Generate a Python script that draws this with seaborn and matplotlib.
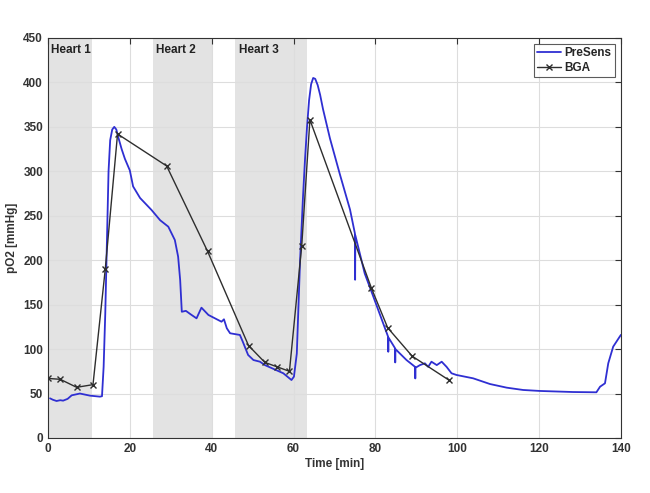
import numpy as np
import pandas as pd
import matplotlib
matplotlib.use("Agg")
import matplotlib.pyplot as plt
import matplotlib.transforms as mtransforms
import seaborn as sns

# PreSens optode trace (time [min], pO2 [mmHg])
presens_t = [0.5, 1.2, 2.1, 3.0, 3.7, 4.8, 5.8, 7.8, 10.3, 12.7, 13.2, 13.6, 14.0, 14.4, 14.8, 15.2,
             15.7, 16.2, 16.7, 17.2, 18.0, 18.8, 20.0, 20.8, 22.5, 25.3, 27.4, 29.4, 31.0, 31.8,
             32.3, 32.7, 33.7, 34.9, 36.3, 37.5, 39.2, 42.4, 43.0, 43.7, 44.5, 46.9, 47.6, 48.9,
             50.2, 51.8, 53.0, 57.5, 59.5, 60.1, 60.8, 61.6, 62.3, 62.8, 63.3, 63.8, 64.3, 64.8,
             65.3, 65.9, 66.5, 67.2, 68.9, 71.3, 73.8, 75.0, 75.05, 75.1, 77.4, 79.5, 81.9,
             83.1, 83.15, 83.2, 84.8, 84.85, 84.9, 87.6, 89.7, 89.75, 89.8, 90.9, 92.1, 92.9,
             93.7, 95.0, 96.2, 97.4, 98.6, 99.8, 103.9, 108.0, 112.1, 116.1, 120.2, 128.3,
             134.0, 134.9, 136.1, 136.9, 138.1, 139.7, 140.0]
presens_v = [44.6, 43.0, 41.6, 42.5, 42.0, 44.0, 48.0, 50.0, 47.6, 46.5, 47.0, 80.0, 140.0, 220.0, 300.0, 335.0,
             347.0, 350.0, 347.0, 338.0, 325.0, 314.0, 301.0, 283.0, 270.0, 256.5, 245.0, 237.7, 222.7, 204.0,
             177.7, 142.0, 143.0, 139.0, 134.6, 146.6, 138.4, 130.8, 133.5, 123.4, 117.8, 115.9, 108.3, 93.4,
             87.7, 85.8, 82.0, 72.8, 65.2, 69.0, 95.0, 200.0, 270.0, 313.0, 350.0, 380.0, 398.0, 405.0,
             404.0, 397.0, 386.0, 370.0, 337.0, 297.0, 257.0, 230.0, 178.0, 228.0, 185.0, 159.0, 129.0,
             114.0, 97.0, 113.0, 101.0, 85.0, 100.0, 87.7, 80.0, 67.0, 79.0, 82.0, 84.0, 80.0,
             85.8, 82.0, 85.8, 80.0, 72.8, 70.9, 67.1, 60.7, 56.6, 54.0, 52.9, 51.7,
             51.4, 57.7, 61.5, 84.0, 102.7, 114.0, 116.0]

# Blood gas analysis samples
bga_t = [0, 3, 7, 11, 14, 17, 29, 39, 49, 53, 56, 59, 62, 64, 79, 83, 89, 98]
bga_v = [67, 66, 57, 60, 190, 342, 306, 210, 104, 85, 80, 75, 216, 358, 169, 124, 92, 65]

# Heart perfusion phases
heart_labels = ["Heart 1", "Heart 2", "Heart 3"]
heart_start = [0.0, 25.7, 45.8]
heart_end = [10.8, 40.2, 63.2]

presens = pd.DataFrame({"t": presens_t, "v": presens_v})
bga = pd.DataFrame({"t": bga_t, "v": bga_v})

sns.set_style("white")
plt.rcParams["font.family"] = ["Liberation Sans", "DejaVu Sans"]
plt.rcParams["font.weight"] = "bold"

fig = plt.figure(figsize=(6.5, 4.93), dpi=100)
ax = fig.add_axes([0.0738, 0.1116, 0.8815, 0.8114])

trans = mtransforms.blended_transform_factory(ax.transData, ax.transAxes)
for lab, s, e in zip(heart_labels, heart_start, heart_end):
    ax.axvspan(s, e, color="#e3e3e3", lw=0, zorder=0)
    ax.text(s + 0.8, 0.985, lab, transform=trans, ha="left", va="top",
            fontsize=8.5, fontweight="bold", color="#222222")

sns.lineplot(data=presens, x="t", y="v", ax=ax, sort=False, estimator=None,
             color="#2f2fd2", lw=1.3, label="PreSens", zorder=3)
sns.lineplot(data=bga, x="t", y="v", ax=ax, sort=False, estimator=None,
             color="#2e2e2e", lw=1.0, marker="x", markersize=4.5,
             markeredgewidth=1.0, markeredgecolor="#2e2e2e",
             label="BGA", zorder=4)

ax.set_xlim(0, 140)
ax.set_ylim(0, 450)
ax.set_xticks(np.arange(0, 141, 20))
ax.set_yticks(np.arange(0, 451, 50))
ax.grid(True, color="#dddddd", lw=0.8)
ax.set_axisbelow(True)
ax.tick_params(direction="in", top=True, right=True, length=4,
               labelsize=8.5, colors="#333333", width=0.8)
for lbl in ax.get_xticklabels() + ax.get_yticklabels():
    lbl.set_fontweight("bold")
for sp in ax.spines.values():
    sp.set_color("#333333")
    sp.set_linewidth(0.8)

ax.set_xlabel("Time [min]", fontsize=8.5, fontweight="bold", color="#333333", labelpad=2)
ax.set_ylabel("pO2 [mmHg]", fontsize=8.5, fontweight="bold", color="#333333", labelpad=4)

leg = ax.legend(loc="upper right", frameon=True, fancybox=False, fontsize=8.5,
                handlelength=2.0, borderpad=0.3, labelspacing=0.2,
                handletextpad=0.3, borderaxespad=0.5)
leg.get_frame().set_edgecolor("#333333")
leg.get_frame().set_linewidth(0.8)
for t in leg.get_texts():
    t.set_fontweight("bold")

fig.savefig("out.png", dpi=100)
